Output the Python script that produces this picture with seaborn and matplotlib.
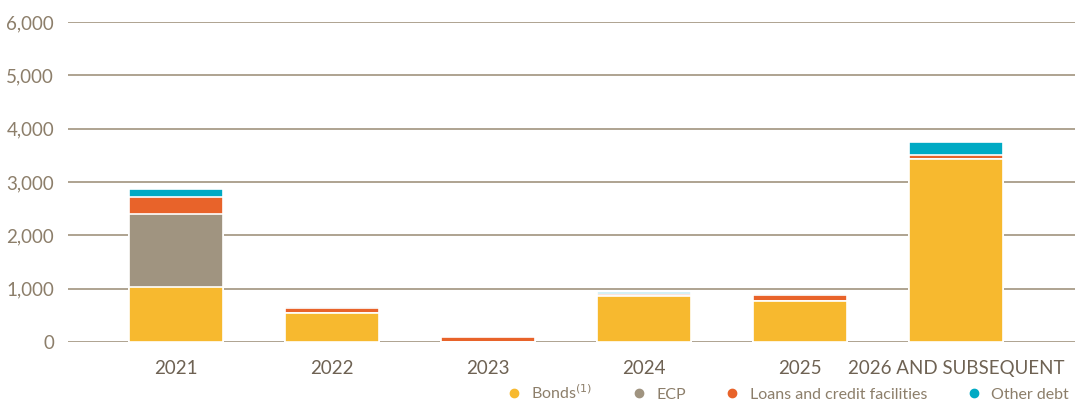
import matplotlib
matplotlib.use("Agg")
import matplotlib.pyplot as plt
from matplotlib.lines import Line2D
import numpy as np
import pandas as pd
import seaborn as sns

years = ["2021", "2022", "2023", "2024", "2025", "2026 AND SUBSEQUENT"]
bonds = [1030, 545, 0, 870, 775, 3440]
ecp = [1370, 0, 0, 0, 0, 0]
loans = [320, 100, 100, 30, 110, 60]
other = [150, 15, 0, 40, 15, 245]

series_names = [r"Bonds$^{(1)}$", "ECP", "Loans and credit facilities", "Other debt"]
colors = ["#F7B92F", "#A09480", "#E8632A", "#00AAC4"]

sns.set_theme(style="white")
plt.rcParams["font.family"] = ["Lato", "DejaVu Sans"]

fig = plt.figure(figsize=(10.8, 4.03), dpi=100)
ax = fig.add_axes([0.063, 0.151, 0.932, 0.794])

# stacked bars: draw cumulative totals from the top layer down
layers = [bonds, ecp, loans, other]
cum = np.cumsum(np.array(layers), axis=0)
for i in range(len(layers) - 1, -1, -1):
    df = pd.DataFrame({"year": years, "value": cum[i]})
    sns.barplot(data=df, x="year", y="value", color=colors[i], saturation=1,
                width=0.6, edgecolor="white", linewidth=1.2, ax=ax, zorder=3)

ax.set_ylim(0, 6000)
ax.set_xlim(-0.69, 5.76)
ax.set_yticks(range(0, 6001, 1000))
ax.set_yticklabels([f"{v:,}" for v in range(0, 6001, 1000)])
ax.yaxis.grid(True, color="#A89C88", linewidth=1.3, zorder=0)
ax.set_axisbelow(True)
for s in ax.spines.values():
    s.set_visible(False)
ax.set_xlabel("")
ax.set_ylabel("")
ax.tick_params(axis="y", length=0, pad=10, labelsize=13.5, labelcolor="#8C7E6A")
ax.tick_params(axis="x", length=0, pad=13, labelsize=13.5, labelcolor="#6E6253")

handles = [Line2D([], [], marker="o", linestyle="", markersize=6,
                  markerfacecolor=c, markeredgecolor=c) for c in colors]
fig.legend(handles, series_names, loc="lower right", bbox_to_anchor=(1.003, -0.033),
           ncol=4, frameon=False, fontsize=11.5, handletextpad=0.1,
           columnspacing=1.9, labelcolor="#8C7E6A")

fig.savefig("out.png", dpi=100)
